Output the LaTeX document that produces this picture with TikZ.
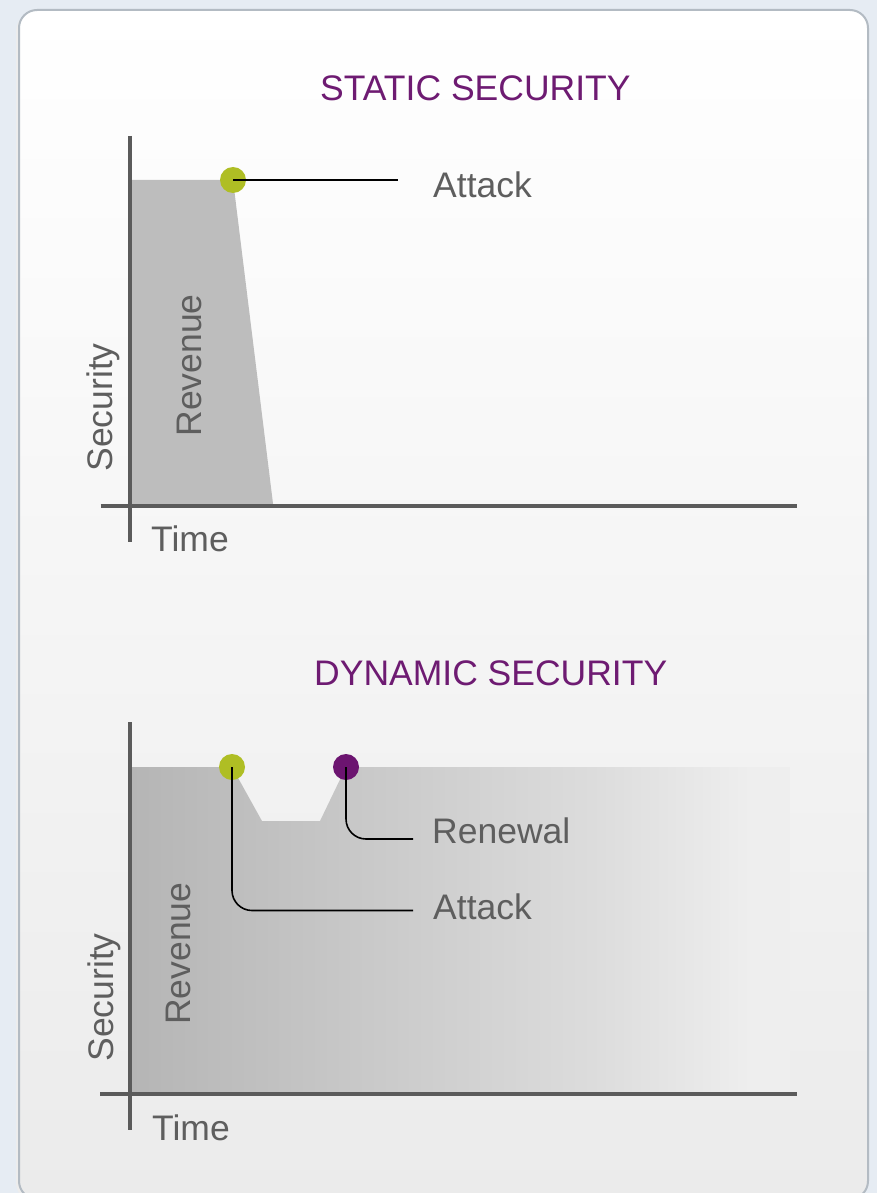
\documentclass[tikz,border=0pt]{standalone}
\usepackage{fontspec}
\setmainfont{Liberation Sans}
\definecolor{bgblue}{HTML}{E6ECF3}
\definecolor{cardline}{HTML}{B3BBC3}
\definecolor{cardbottom}{HTML}{EBEBEB}
\definecolor{axisgray}{HTML}{5B5B5B}
\definecolor{txtgray}{HTML}{5E5E5E}
\definecolor{titlepurple}{HTML}{6E1B72}
\definecolor{dotgreen}{HTML}{AFBE24}
\definecolor{dotpurple}{HTML}{6C1470}
\definecolor{fillgray}{HTML}{BDBDBD}
\definecolor{dynL}{HTML}{B5B5B5}
\definecolor{dynM}{HTML}{DCDCDC}
\definecolor{dynR}{HTML}{EEEEEE}
\pgfdeclarehorizontalshading{dynshade}{100bp}{color(0bp)=(dynL); color(25bp)=(dynL); color(60bp)=(dynM); color(72bp)=(dynR); color(100bp)=(dynR)}
\begin{document}
\begin{tikzpicture}[x=1pt,y=-1pt,
  lbl/.style={inner sep=0pt, anchor=base west, text=txtgray, font=\fontsize{35.5}{40}\selectfont},
  ttl/.style={inner sep=0pt, anchor=base west, text=titlepurple, font=\fontsize{35.5}{40}\selectfont},
  axisline/.style={draw=axisgray, line width=4pt},
  dot/.style={circle, inner sep=0pt, minimum size=26pt},
  leader/.style={draw=black, line width=1.6pt}]
\useasboundingbox (0,0) rectangle (877,1193);
\clip (0,0) rectangle (877,1193);
\fill[bgblue] (0,0) rectangle (877,1193);
% card
\fill[black!7, rounded corners=18pt] (16,13) rectangle (867,1201);
\path[draw=cardline, line width=2pt, rounded corners=18pt, top color=white, bottom color=cardbottom] (19,10) rectangle (868,1199);

% ---------- static ----------
\node[ttl] (t1) at (320,100.7) {STATIC SECURITY};
\fill[fillgray] (131,180) -- (233,180) -- (273.3,506) -- (131,506) -- cycle;
\draw[axisline] (130,136) -- (130,541.7);
\draw[axisline] (100.7,506) -- (797,506);
\node[dot, fill=dotgreen] (sA) at (233,180) {};
\coordinate (sAe) at (398,180);
\draw[leader] (sA.center) -- (sAe);
\node[lbl] (sAl) at (433,197.3) {Attack};
\node[lbl, rotate=90] (sSec) at (112.7,471.7) {Security};
\node[lbl, rotate=90] (sRev) at (201.7,436.7) {Revenue};
\node[lbl] (sTime) at (151,551.7) {Time};

% ---------- dynamic ----------
\node[ttl] (t2) at (314,685) {DYNAMIC SECURITY};
\path[shading=dynshade] (131,767) -- (232,767) -- (262,821) -- (320,821) -- (346,767) -- (790,767) -- (790,1094) -- (131,1094) -- cycle;
\draw[axisline] (130,722) -- (130,1130);
\draw[axisline] (100,1094) -- (797,1094);
\node[dot, fill=dotgreen] (dA) at (232,767) {};
\node[dot, fill=dotpurple] (dR) at (346,767) {};
\coordinate (dAe) at (413,910.5);
\coordinate (dRe) at (413,839);
\draw[leader, rounded corners=20pt] (dA.center) |- (dAe);
\draw[leader, rounded corners=20pt] (dR.center) |- (dRe);
\node[lbl] (dRl) at (432,843.3) {Renewal};
\node[lbl] (dAl) at (433,919.3) {Attack};
\node[lbl, rotate=90] (dSec) at (113.3,1061.7) {Security};
\node[lbl, rotate=90] (dRev) at (190,1025) {Revenue};
\node[lbl] (dTime) at (152,1140.7) {Time};
\end{tikzpicture}
\end{document}
